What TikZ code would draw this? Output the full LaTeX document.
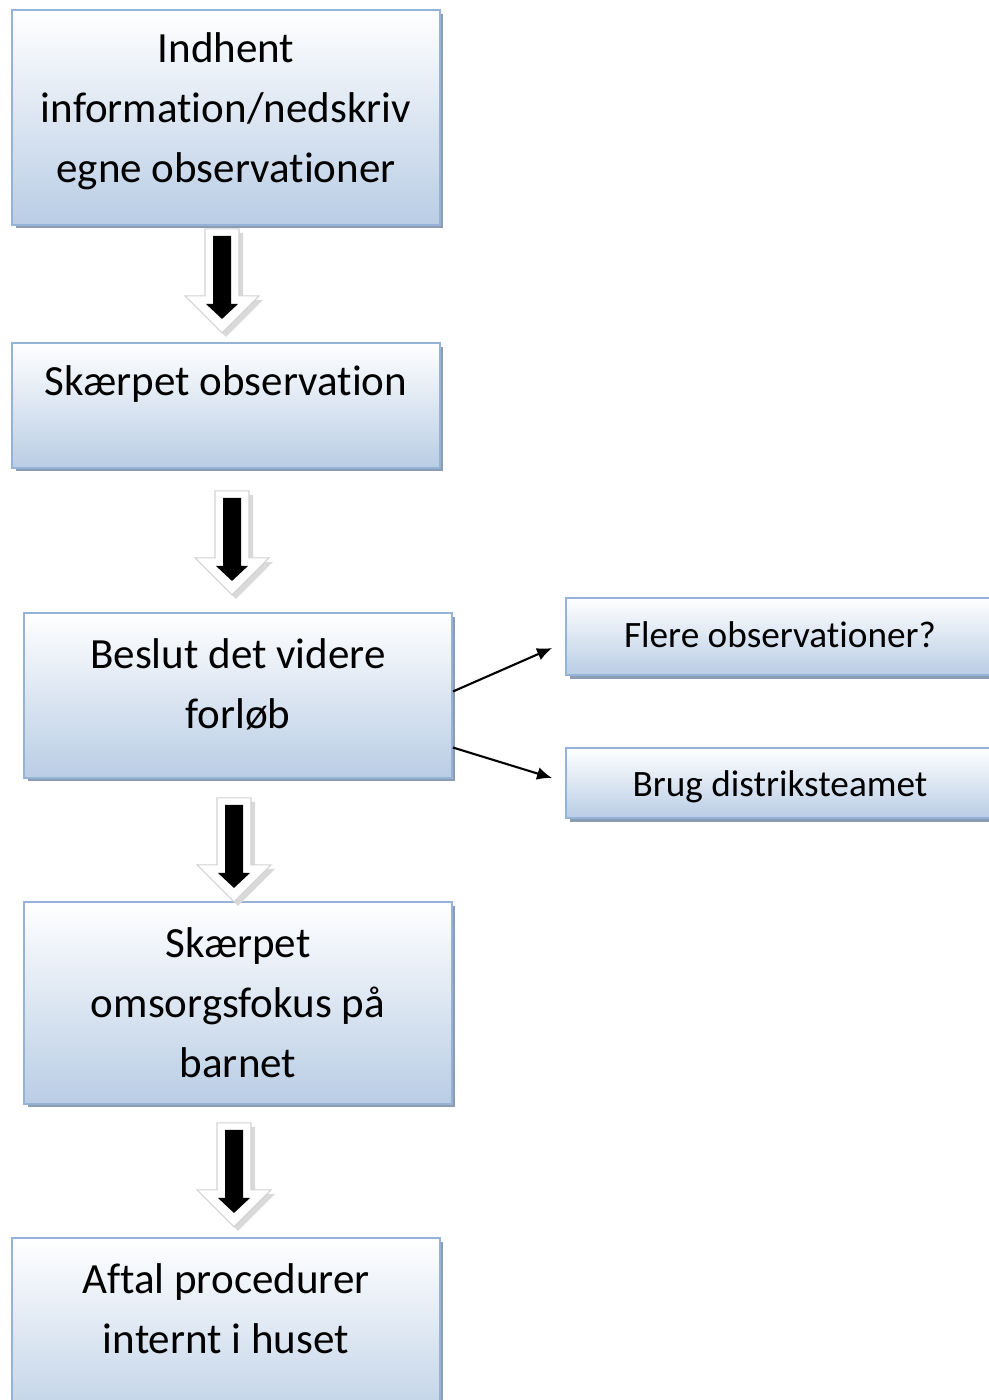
\documentclass[tikz,border=0pt]{standalone}
\usepackage{fontspec}
\setmainfont[Ligatures=NoCommon]{Carlito}
\usetikzlibrary{calc,shadows,arrows.meta}

\definecolor{kantblaa}{RGB}{149,179,215}
\definecolor{bundblaa}{RGB}{185,205,229}
\definecolor{skygge}{RGB}{140,156,178}

\tikzset{
  boks/.style={rectangle, draw=kantblaa, line width=1.1pt,
    top color=white, bottom color=bundblaa,
    drop shadow={shadow xshift=0.07cm, shadow yshift=-0.07cm, fill=skygge, opacity=1}},
  tekst/.style={align=center, font=\fontsize{24.5}{34.1}\selectfont},
  smaatekst/.style={align=center, font=\fontsize{21.2}{26}\selectfont},
  pilkant/.style={fill=white, draw=gray!35, line width=0.6pt},
  pilskygge/.style={fill=gray!30},
  tynd/.style={line width=1.2pt, -{Latex[length=0.3cm, width=0.26cm]}}
}

% block arrow pointing down, #1 = top centre
\newcommand{\blokpil}[1]{%
  \begin{scope}[shift={#1}]
    \fill[pilskygge] (-13,4) -- (21,4) -- (21,71) -- (41,71) -- (4,108) -- (-33,71) -- (-13,71) -- cycle;
    \filldraw[pilkant] (-17,0) -- (17,0) -- (17,67) -- (37,67) -- (0,104) -- (-37,67) -- (-17,67) -- cycle;
    \fill[black] (-9,7) -- (9,7) -- (9,75) -- (16,75) -- (0,90) -- (-16,75) -- (-9,75) -- cycle;
  \end{scope}}

\begin{document}
\begin{tikzpicture}[x=0.02cm, y=-0.02cm]
\useasboundingbox (0,0) rectangle (989,1400);

% boxes in the left column
\node[boks, minimum width=8.56cm, minimum height=4.3cm] (indhent) at (226,117.5) {};
\node[boks, minimum width=8.56cm, minimum height=2.5cm] (skaerpet) at (226,405.5) {};
\node[boks, minimum width=8.56cm, minimum height=3.3cm] (beslut) at (238,695.5) {};
\node[boks, minimum width=8.56cm, minimum height=4.04cm] (omsorg) at (238,1003) {};
\node[boks, minimum width=8.56cm, minimum height=4cm] (aftal) at (226,1338) {};

% boxes to the right
\node[boks, minimum width=8.6cm, minimum height=1.54cm] (flere) at (781,636.5) {};
\node[boks, minimum width=8.6cm, minimum height=1.4cm] (brug) at (781,783) {};

% texts
\node[tekst] (indhent-t) at (226,111) {Indhent\\information/nedskriv\\egne observationer};
\node[tekst] (skaerpet-t) at (226,384) {Skærpet observation};
\node[tekst] (beslut-t) at (238,684) {Beslut det videre\\forløb};
\node[tekst] (omsorg-t) at (238,1003) {Skærpet\\omsorgsfokus på\\barnet};
\node[tekst] (aftal-t) at (226,1309) {Aftal procedurer\\internt i huset};
\node[smaatekst] (flere-t) at (780,635) {Flere observationer?};
\node[smaatekst] (brug-t) at (780,787) {Brug distriksteamet};

% block arrows between the boxes
\blokpil{($(indhent.south)+(-4,3)$)}
\blokpil{($(skaerpet.south)+(6,22)$)}
\blokpil{($(beslut.south)+(-4,19)$)}
\blokpil{($(omsorg.south)+(-4,18)$)}

% thin arrows to the right
\draw[tynd] ($(beslut.east)+(0,-4)$) -- ($(flere.west)+(-13,11.5)$);
\draw[tynd] ($(beslut.east)+(0,52)$) -- ($(brug.west)+(-13,-5)$);

\end{tikzpicture}
\end{document}
